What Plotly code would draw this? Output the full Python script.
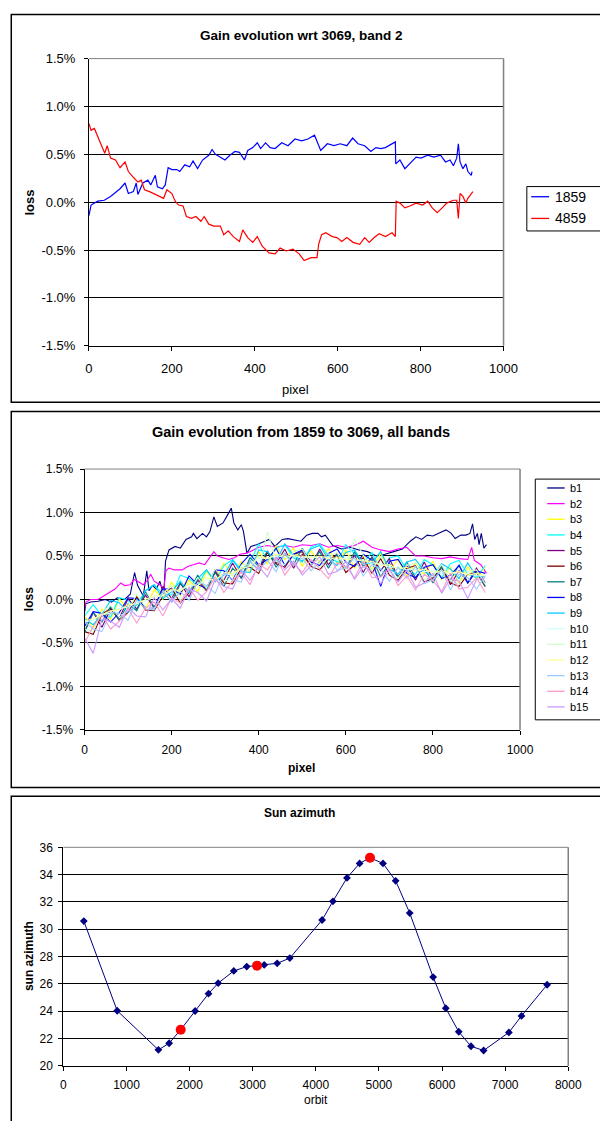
import plotly.graph_objects as go

# ---------------- Panel 1 data: gain evolution wrt 3069, band 2 ----------------
S1859_PX = [0, 5, 21, 37, 52, 68, 75, 87, 95, 107, 114, 118, 130, 142, 149, 160, 165, 177, 184, 191,
            200, 212, 219, 231, 243, 251, 262, 274, 289, 297, 305, 317, 328, 340, 352, 363, 375, 383,
            395, 406, 414, 426, 437, 449, 465, 480, 497, 513, 528, 544, 552, 559, 575, 591, 606, 622,
            636, 649, 665, 680, 692, 704, 715, 731, 739, 740, 750, 762, 774, 789, 801, 817, 832, 848,
            860, 871, 879, 887, 891, 895, 902, 909, 914, 922, 924]
S1859_LOSS = [-0.14, -0.03, 0.01, 0.02, 0.06, 0.11, 0.14, 0.20, 0.09, 0.11, 0.20, 0.08, 0.20, 0.23, 0.18,
              0.28, 0.16, 0.14, 0.18, 0.36, 0.34, 0.34, 0.32, 0.39, 0.37, 0.43, 0.35, 0.44, 0.49, 0.55,
              0.50, 0.47, 0.44, 0.49, 0.53, 0.52, 0.44, 0.54, 0.57, 0.62, 0.56, 0.62, 0.57, 0.56, 0.62,
              0.59, 0.66, 0.64, 0.66, 0.70, 0.61, 0.54, 0.61, 0.59, 0.61, 0.59, 0.67, 0.61, 0.59, 0.53,
              0.57, 0.56, 0.57, 0.61, 0.63, 0.40, 0.44, 0.35, 0.40, 0.47, 0.46, 0.49, 0.47, 0.49, 0.42,
              0.44, 0.38, 0.46, 0.61, 0.42, 0.35, 0.40, 0.32, 0.28, 0.32]

S4859_PX = [0, 5, 13, 21, 29, 38, 44, 52, 64, 75, 87, 95, 107, 118, 126, 134, 146, 157, 169, 180, 188,
            200, 208, 216, 227, 235, 247, 258, 270, 278, 289, 301, 317, 325, 336, 348, 363, 371, 383,
            395, 406, 418, 434, 449, 461, 476, 492, 507, 519, 536, 550, 554, 561, 571, 587, 598, 610,
            622, 637, 653, 665, 676, 688, 700, 715, 731, 739, 741, 750, 762, 774, 789, 805, 817, 828,
            840, 852, 863, 879, 887, 891, 895, 902, 909, 914, 922, 926]
S4859_LOSS = [0.82, 0.75, 0.77, 0.68, 0.59, 0.51, 0.59, 0.46, 0.44, 0.36, 0.42, 0.32, 0.26, 0.21, 0.23,
              0.13, 0.11, 0.09, 0.06, 0.04, 0.13, 0.09, 0.01, -0.03, -0.04, -0.15, -0.17, -0.15, -0.20,
              -0.15, -0.23, -0.25, -0.25, -0.34, -0.30, -0.36, -0.41, -0.29, -0.37, -0.42, -0.36, -0.46,
              -0.53, -0.54, -0.48, -0.51, -0.49, -0.54, -0.61, -0.58, -0.58, -0.44, -0.34, -0.32, -0.36,
              -0.37, -0.41, -0.37, -0.42, -0.44, -0.37, -0.42, -0.37, -0.33, -0.36, -0.32, -0.36, 0.01,
              -0.01, -0.06, -0.04, -0.01, -0.03, 0.01, -0.06, -0.11, -0.06, -0.01, 0.02, 0.02, -0.17,
              0.09, 0.06, -0.01, 0.04, 0.08, 0.11]

LOSS_TICKS = [-1.5, -1.0, -0.5, 0.0, 0.5, 1.0, 1.5]
LOSS_TICK_LABELS = ["-1.5%", "-1.0%", "-0.5%", "0.0%", "0.5%", "1.0%", "1.5%"]
PIXEL_TICKS = [0, 200, 400, 600, 800, 1000]

# ---------------- Panel 2 data: gain evolution 1859 -> 3069, all bands ----------------
B1_PX = [0, 3, 14, 31, 48, 62, 75, 92, 105, 115, 122, 135, 143, 148, 156, 165, 173, 182, 186, 194,
         208, 220, 233, 246, 250, 258, 271, 280, 288, 297, 305, 318, 326, 337, 343, 352, 360, 365,
         373, 382, 395, 412, 424, 437, 454, 467, 480, 497, 510, 523, 536, 544, 553, 570, 590, 610,
         630, 650, 670, 690, 710, 730, 740, 748, 761, 774, 787, 800, 812, 830, 842, 851, 864, 876,
         885, 891, 896, 902, 906, 911, 917, 923]
B1_LOSS = [-0.15, -0.05, -0.03, -0.02, 0.0, -0.03, 0.02, 0.0, 0.06, 0.31, 0.16, 0.04, 0.33, 0.10, 0.16,
           0.12, 0.21, 0.04, 0.44, 0.57, 0.61, 0.59, 0.69, 0.72, 0.76, 0.70, 0.76, 0.72, 0.78, 0.95,
           0.84, 0.88, 0.95, 1.05, 0.88, 0.80, 0.86, 0.78, 0.53, 0.61, 0.63, 0.67, 0.69, 0.61, 0.69,
           0.70, 0.69, 0.67, 0.74, 0.76, 0.76, 0.72, 0.74, 0.62, 0.58, 0.60, 0.57, 0.55, 0.50, 0.52,
           0.55, 0.58, 0.63, 0.67, 0.72, 0.69, 0.74, 0.73, 0.76, 0.80, 0.76, 0.70, 0.74, 0.74, 0.76,
           0.87, 0.69, 0.76, 0.63, 0.76, 0.59, 0.63]

B2_PX = [0, 3, 14, 31, 44, 57, 70, 83, 92, 105, 114, 122, 135, 143, 152, 160, 173, 182, 187, 194,
         207, 224, 237, 250, 263, 276, 288, 297, 305, 318, 331, 344, 357, 369, 380, 400, 420, 440,
         460, 480, 500, 520, 540, 560, 580, 600, 620, 640, 660, 680, 700, 720, 740, 760, 780, 800,
         820, 840, 860, 880, 889, 895, 910, 923]
B2_LOSS = [-0.11, -0.03, 0.0, 0.0, 0.04, 0.08, 0.12, 0.19, 0.16, 0.17, 0.23, 0.21, 0.17, 0.21, 0.29,
           0.21, 0.17, 0.12, 0.33, 0.36, 0.34, 0.34, 0.38, 0.40, 0.42, 0.40, 0.48, 0.55, 0.50, 0.48,
           0.46, 0.48, 0.52, 0.53, 0.55, 0.60, 0.62, 0.60, 0.62, 0.60, 0.63, 0.62, 0.64, 0.60, 0.62,
           0.60, 0.62, 0.67, 0.60, 0.57, 0.55, 0.58, 0.60, 0.50, 0.50, 0.48, 0.47, 0.49, 0.47, 0.46,
           0.60, 0.45, 0.40, 0.30]

BAND_PX = [0, 20, 40, 60, 80, 100, 120, 140, 160, 180, 200, 220, 240, 260, 280, 300, 320, 340, 360,
           380, 400, 420, 440, 460, 480, 500, 520, 540, 560, 580, 600, 620, 640, 660, 680, 700, 720,
           740, 760, 780, 800, 820, 840, 860, 880, 900, 920]
B3_LOSS = [-0.19, -0.32, -0.11, -0.23, 0.01, -0.12, 0.04, -0.12, 0.12, 0.0, 0.20, 0.05, 0.22, 0.09,
           0.32, 0.20, 0.42, 0.27, 0.44, 0.31, 0.55, 0.41, 0.62, 0.46, 0.59, 0.38, 0.56, 0.42, 0.59,
           0.41, 0.57, 0.36, 0.51, 0.35, 0.53, 0.33, 0.46, 0.26, 0.42, 0.29, 0.44, 0.23, 0.37, 0.19,
           0.38, 0.22, 0.38]
B4_LOSS = [-0.19, -0.06, -0.19, -0.20, 0.02, -0.01, -0.11, 0.10, 0.17, 0.06, 0.05, 0.28, 0.24, 0.16,
           0.34, 0.20, 0.39, 0.46, 0.34, 0.43, 0.64, 0.44, 0.59, 0.63, 0.48, 0.43, 0.60, 0.64, 0.50,
           0.43, 0.63, 0.53, 0.42, 0.54, 0.33, 0.48, 0.50, 0.34, 0.29, 0.46, 0.40, 0.25, 0.41, 0.45,
           0.29, 0.25, 0.39]
B5_LOSS = [-0.37, -0.15, -0.32, -0.11, -0.22, 0.01, -0.11, 0.05, -0.10, 0.15, 0.01, 0.19, 0.03, 0.24,
           0.12, 0.34, 0.22, 0.42, 0.24, 0.44, 0.34, 0.55, 0.41, 0.58, 0.36, 0.52, 0.38, 0.58, 0.40,
           0.53, 0.35, 0.51, 0.31, 0.49, 0.33, 0.47, 0.26, 0.39, 0.22, 0.43, 0.23, 0.38, 0.17, 0.33,
           0.19, 0.36, 0.19]
B6_LOSS = [-0.37, -0.40, -0.17, -0.10, -0.24, -0.15, 0.03, -0.12, -0.13, 0.04, 0.13, -0.04, 0.08,
           0.22, 0.10, 0.32, 0.19, 0.18, 0.36, 0.37, 0.30, 0.54, 0.41, 0.37, 0.52, 0.55, 0.38, 0.34,
           0.46, 0.51, 0.31, 0.39, 0.48, 0.30, 0.47, 0.28, 0.22, 0.36, 0.39, 0.20, 0.24, 0.37, 0.19,
           0.15, 0.29, 0.31, 0.15]
B7_LOSS = [-0.38, -0.15, -0.26, -0.08, -0.24, -0.05, -0.13, 0.09, -0.09, 0.09, -0.03, 0.18, 0.09, 0.28,
           0.11, 0.31, 0.15, 0.36, 0.25, 0.48, 0.38, 0.56, 0.37, 0.53, 0.40, 0.59, 0.41, 0.55, 0.36,
           0.52, 0.36, 0.55, 0.38, 0.48, 0.26, 0.42, 0.25, 0.43, 0.25, 0.36, 0.19, 0.38, 0.22, 0.40,
           0.19, 0.33, 0.15]
B8_LOSS = [-0.31, -0.14, -0.16, -0.26, -0.15, 0.02, 0.01, -0.09, -0.10, 0.12, 0.12, 0.06, 0.27, 0.17,
           0.13, 0.34, 0.33, 0.22, 0.41, 0.52, 0.40, 0.46, 0.59, 0.39, 0.52, 0.57, 0.43, 0.39, 0.53,
           0.58, 0.43, 0.38, 0.52, 0.45, 0.15, 0.44, 0.46, 0.30, 0.25, 0.37, 0.40, 0.24, 0.28, 0.39,
           0.19, 0.33, 0.30]
B9_LOSS = [-0.22, -0.29, -0.17, -0.01, -0.04, -0.15, -0.06, 0.10, 0.17, 0.01, 0.09, 0.21, 0.08, 0.24,
           0.34, 0.21, 0.28, 0.45, 0.32, 0.31, 0.57, 0.55, 0.44, 0.64, 0.51, 0.44, 0.58, 0.62, 0.46,
           0.39, 0.54, 0.57, 0.41, 0.42, 0.55, 0.35, 0.29, 0.43, 0.46, 0.32, 0.27, 0.41, 0.35, 0.24,
           0.42, 0.26, 0.27]
B10_LOSS = [-0.26, -0.24, -0.17, -0.16, -0.10, -0.09, -0.03, -0.02, 0.03, 0.04, 0.10, 0.10, 0.17, 0.16,
            0.23, 0.22, 0.30, 0.28, 0.36, 0.38, 0.48, 0.47, 0.51, 0.48, 0.51, 0.47, 0.50, 0.47, 0.49,
            0.45, 0.48, 0.44, 0.46, 0.41, 0.41, 0.37, 0.37, 0.34, 0.35, 0.32, 0.33, 0.30, 0.31, 0.29,
            0.30, 0.27, 0.28]
B11_LOSS = [-0.34, -0.37, -0.14, -0.07, -0.21, -0.12, 0.06, -0.09, -0.10, 0.07, 0.16, -0.01, 0.11,
            0.25, 0.13, 0.35, 0.22, 0.21, 0.39, 0.40, 0.33, 0.78, 0.44, 0.40, 0.55, 0.58, 0.41, 0.37,
            0.49, 0.54, 0.34, 0.70, 0.51, 0.33, 0.50, 0.31, 0.25, 0.39, 0.42, 0.23, 0.27, 0.40, 0.22,
            0.18, 0.32, 0.34, 0.18]
B12_LOSS = [-0.25, -0.22, -0.18, -0.13, -0.12, -0.06, -0.05, 0.0, 0.04, 0.05, 0.12, 0.10, 0.18, 0.16,
            0.25, 0.22, 0.31, 0.30, 0.36, 0.38, 0.50, 0.47, 0.52, 0.50, 0.50, 0.50, 0.48, 0.50, 0.47,
            0.48, 0.46, 0.47, 0.44, 0.44, 0.39, 0.40, 0.35, 0.37, 0.33, 0.35, 0.31, 0.33, 0.30, 0.32,
            0.28, 0.30, 0.27]
B13_LOSS = [-0.25, -0.34, -0.37, -0.15, -0.16, -0.24, 0.0, -0.11, -0.12, 0.10, -0.03, 0.09, -0.01,
            0.20, 0.16, 0.07, 0.31, 0.23, 0.20, 0.44, 0.34, 0.45, 0.32, 0.53, 0.39, 0.48, 0.33, 0.44,
            0.53, 0.33, 0.37, 0.48, 0.27, 0.40, 0.35, 0.21, 0.37, 0.24, 0.38, 0.18, 0.23, 0.34, 0.11,
            0.29, 0.25, 0.12, 0.27]
B14_LOSS = [-0.50, -0.31, -0.18, -0.34, -0.25, -0.11, -0.27, -0.10, -0.03, -0.19, 0.02, -0.04, 0.14,
            -0.01, 0.09, 0.26, 0.08, 0.22, 0.31, 0.17, 0.41, 0.34, 0.49, 0.28, 0.42, 0.31, 0.46, 0.35,
            0.24, 0.42, 0.38, 0.25, 0.44, 0.25, 0.26, 0.36, 0.16, 0.27, 0.11, 0.29, 0.22, 0.09, 0.30,
            0.12, 0.14, 0.25, 0.08]
B15_LOSS = [-0.44, -0.62, -0.23, -0.25, -0.32, -0.09, -0.19, -0.20, 0.02, -0.12, 0.01, -0.10, 0.12,
            0.08, -0.02, 0.23, 0.15, 0.12, 0.34, 0.22, 0.38, 0.26, 0.48, 0.34, 0.44, 0.28, 0.39, 0.49,
            0.29, 0.32, 0.44, 0.23, 0.38, 0.32, 0.18, 0.34, 0.20, 0.34, 0.14, 0.19, 0.30, 0.07, 0.24,
            0.21, 0.01, 0.23, 0.25]

BAND_NAMES = ["b1", "b2", "b3", "b4", "b5", "b6", "b7", "b8", "b9", "b10", "b11", "b12", "b13", "b14", "b15"]
BAND_COLORS = ["#000080", "#FF00FF", "#FFFF00", "#00FFFF", "#800080", "#800000", "#008080", "#0000FF",
               "#00CCFF", "#CCFFFF", "#CCFFCC", "#FFFF99", "#99CCFF", "#FF99CC", "#CC99FF"]

# ---------------- Panel 3 data: sun azimuth ----------------
ORBIT = [324, 853, 1506, 1676, 1859, 2088, 2300, 2453, 2700, 2906, 3069, 3182, 3388, 3588, 4100, 4271,
         4494, 4694, 4859, 5065, 5265, 5488, 5859, 6059, 6265, 6459, 6659, 7059, 7259, 7665]
SUN_AZ = [30.6, 24.04, 21.18, 21.66, 22.65, 24.02, 25.29, 26.06, 26.95, 27.27, 27.34, 27.39, 27.51, 27.89,
          30.68, 32.05, 33.76, 34.82, 35.23, 34.82, 33.55, 31.19, 26.5, 24.23, 22.5, 21.44, 21.13, 22.45,
          23.66, 25.94]
SEL_ORBIT = [1859, 3069, 4859]
SEL_AZ = [22.65, 27.34, 35.23]
ORBIT_TICKS = [0, 1000, 2000, 3000, 4000, 5000, 6000, 7000, 8000]
AZ_TICKS = [20, 22, 24, 26, 28, 30, 32, 34, 36]

# ---------------- figure ----------------
W, H = 600, 1121
FONT = "Arial, 'Liberation Sans', sans-serif"


def fx(p):
    return p / W


def fy(p):
    return 1 - p / H


fig = go.Figure()

fig.add_trace(go.Scatter(x=S1859_PX, y=S1859_LOSS, mode="lines", line=dict(color="#0000FF", width=1.2),
                         xaxis="x", yaxis="y", showlegend=False))
fig.add_trace(go.Scatter(x=S4859_PX, y=S4859_LOSS, mode="lines", line=dict(color="#FF0000", width=1.2),
                         xaxis="x", yaxis="y", showlegend=False))

band_data = [(B1_PX, B1_LOSS), (B2_PX, B2_LOSS)] + [(BAND_PX, v) for v in
             [B3_LOSS, B4_LOSS, B5_LOSS, B6_LOSS, B7_LOSS, B8_LOSS, B9_LOSS, B10_LOSS, B11_LOSS,
              B12_LOSS, B13_LOSS, B14_LOSS, B15_LOSS]]
for (xs, ys), name, col in zip(band_data, BAND_NAMES, BAND_COLORS):
    fig.add_trace(go.Scatter(x=xs[:len(ys)], y=ys, mode="lines", name=name,
                             line=dict(color=col, width=1.1), xaxis="x2", yaxis="y2", showlegend=False))

fig.add_trace(go.Scatter(x=ORBIT, y=SUN_AZ, mode="lines+markers",
                         line=dict(color="#000080", width=1),
                         marker=dict(symbol="diamond", size=6, color="#000080"),
                         xaxis="x3", yaxis="y3", showlegend=False))
fig.add_trace(go.Scatter(x=SEL_ORBIT, y=SEL_AZ, mode="markers",
                         marker=dict(symbol="circle", size=10, color="#FF0000"),
                         xaxis="x3", yaxis="y3", showlegend=False))


def xax(dom, rng, ticks, fs, standoff, anchor):
    return dict(domain=dom, range=rng, tickvals=ticks, ticks="outside", ticklen=4, tickwidth=1,
                tickcolor="black", showline=True, linecolor="black", linewidth=1, showgrid=False,
                zeroline=False, anchor=anchor, tickfont=dict(family=FONT, size=fs, color="black"),
                ticklabelstandoff=standoff, fixedrange=True)


def yax(dom, rng, ticks, text, fs, standoff, anchor):
    d = dict(domain=dom, range=rng, tickvals=ticks, ticks="outside", ticklen=4, tickwidth=1,
             tickcolor="black", showline=True, linecolor="black", linewidth=1, showgrid=True,
             gridcolor="black", gridwidth=1, zeroline=False, anchor=anchor,
             tickfont=dict(family=FONT, size=fs, color="black"), ticklabelstandoff=standoff,
             fixedrange=True)
    if text is not None:
        d["ticktext"] = text
    return d


fig.update_layout(
    width=W, height=H, margin=dict(l=0, r=0, t=0, b=0),
    paper_bgcolor="white", plot_bgcolor="white", showlegend=False,
    xaxis=xax([fx(87.6), fx(515)], [0, 1000], PIXEL_TICKS, 13, 7, "y"),
    yaxis=yax([fy(343.3), fy(52.3)], [-1.5, 1.5], LOSS_TICKS, LOSS_TICK_LABELS, 13, 6, "x"),
    xaxis2=xax([fx(83), fx(532)], [0, 1000], PIXEL_TICKS, 12, 5, "y2"),
    yaxis2=yax([fy(732.7), fy(468.3)], [-1.5, 1.5], LOSS_TICKS, LOSS_TICK_LABELS, 12, 4, "x2"),
    xaxis3=xax([fx(61.2), fx(581.7)], [0, 8000], ORBIT_TICKS, 12, 4, "y3"),
    yaxis3=yax([fy(1073.3), fy(851.7)], [20, 36], AZ_TICKS, None, 12, 3, "x3"),
)

shapes = []
# outer panel frames
for top, bot in [(7.5, 400.5), (410, 791), (800, 1130)]:
    shapes.append(dict(type="rect", xref="paper", yref="paper", x0=fx(7.5), x1=1.05, y0=fy(bot), y1=fy(top),
                       line=dict(color="black", width=1.5), fillcolor="rgba(0,0,0,0)", layer="above"))
# gray plot-area top/right edges
for xa, ya in [("x", "y"), ("x2", "y2"), ("x3", "y3")]:
    shapes.append(dict(type="line", xref=xa + " domain", yref=ya + " domain", x0=0, x1=1, y0=1, y1=1,
                       line=dict(color="#808080", width=1), layer="above"))
    shapes.append(dict(type="line", xref=xa + " domain", yref=ya + " domain", x0=1, x1=1, y0=0, y1=1,
                       line=dict(color="#808080", width=1.5), layer="above"))

annotations = []


def label(text, x, y, size, bold=False, angle=0, anchor="center"):
    t = "<b>%s</b>" % text if bold else text
    annotations.append(dict(text=t, x=fx(x), y=fy(y), xref="paper", yref="paper", showarrow=False,
                            xanchor=anchor, yanchor="middle", textangle=angle,
                            font=dict(family=FONT, size=size, color="black")))


# panel 1 texts
label("Gain evolution wrt 3069, band 2", 307, 29, 13.5, bold=True)
label("pixel", 301, 388, 13)
label("loss", 26, 198, 13, bold=True, angle=-90)
# panel 1 legend
shapes.append(dict(type="rect", xref="paper", yref="paper", x0=fx(539), x1=1.05, y0=fy(227), y1=fy(182),
                   line=dict(color="black", width=1), fillcolor="white", layer="above"))
for yy, name, col in [(192.3, "1859", "#0000FF"), (214.3, "4859", "#FF0000")]:
    shapes.append(dict(type="line", xref="paper", yref="paper", x0=fx(543.5), x1=fx(562), y0=fy(yy), y1=fy(yy),
                       line=dict(color=col, width=1.3), layer="above"))
    label(name, 565.5, yy, 14, anchor="left")

# panel 2 texts
label("Gain evolution from 1859 to 3069, all bands", 306, 431, 14.5, bold=True)
label("pixel", 307, 771.7, 12, bold=True)
label("loss", 26, 600, 12, bold=True, angle=-90)
# panel 2 legend
shapes.append(dict(type="rect", xref="paper", yref="paper", x0=fx(547.7), x1=1.05, y0=fy(722.5), y1=fy(478.5),
                   line=dict(color="black", width=1), fillcolor="white", layer="above"))
for i, (name, col) in enumerate(zip(BAND_NAMES, BAND_COLORS)):
    yy = 487.5 + i * 15.85
    shapes.append(dict(type="line", xref="paper", yref="paper", x0=fx(560), x1=fx(578), y0=fy(yy), y1=fy(yy),
                       line=dict(color=col, width=1.3), layer="above"))
    label(name, 581, yy, 11, anchor="left")

# panel 3 texts
label("Sun azimuth", 305, 816.7, 12, bold=True)
label("orbit", 322, 1108.3, 12)
label("sun azimuth", 26, 961.7, 12, bold=True, angle=-90)

fig.update_layout(shapes=shapes, annotations=annotations)
fig.write_html("out.html")
